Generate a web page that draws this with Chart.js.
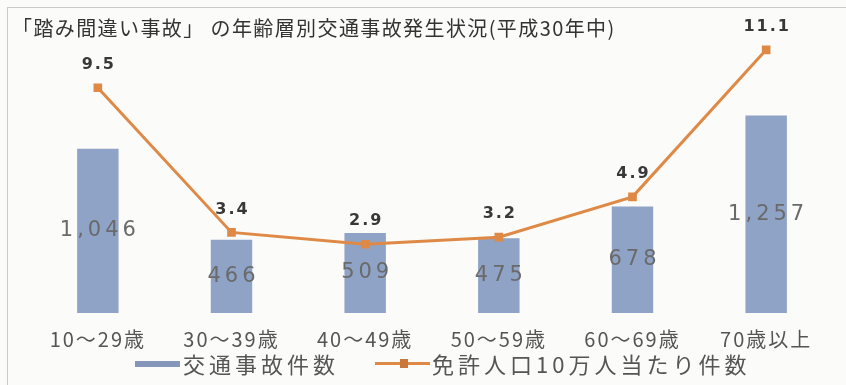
<!DOCTYPE html>
<html>
<head>
<meta charset="utf-8">
<script src="https://cdn.jsdelivr.net/npm/chart.js@4.4.1/dist/chart.umd.min.js"></script>
<style>
  html, body { margin:0; padding:0; background:#fbfbfa; }
  #wrap { position:relative; width:846px; height:385px; overflow:hidden; background:#fbfbfa; }
  #frame { position:absolute; left:7px; top:7px; width:850px; height:390px; border-left:1px solid #c9cccc; border-top:1px solid #c9cccc; }
  canvas { position:absolute; left:0; top:0; }
  #title { position:absolute; left:12px; top:16px; line-height:24px; font-family:"Noto Sans CJK JP"; font-size:20px; color:#333; white-space:nowrap; letter-spacing:1.4px; }
  #legend { position:absolute; left:135px; top:350px; font-family:"Noto Sans CJK JP"; font-size:22px; color:#555; white-space:nowrap; letter-spacing:4px; }
  .item { position:absolute; top:0; height:26px; line-height:26px; }
  .sw { position:absolute; }
</style>
</head>
<body>
<div id="wrap">
  <div id="frame"></div>
  <canvas id="c" width="846" height="385"></canvas>
  <div id="title">「踏み間違い事故」 の年齢層別交通事故発生状況(平成30年中)</div>
  <div id="legend"></div>
</div>
<script>
const categories = ["10〜29歳", "30〜39歳", "40〜49歳", "50〜59歳", "60〜69歳", "70歳以上"];
const accidentCounts = [1046, 466, 509, 475, 678, 1257];
const ratePer100k = [9.5, 3.4, 2.9, 3.2, 4.9, 11.1];
const seriesNames = ["交通事故件数", "免許人口10万人当たり件数"];

const BAR_COLOR = "#8fa3c6";
const LINE_COLOR = "#de8a46";

// HTML legend
const lg = document.getElementById("legend");
lg.innerHTML =
  '<div class="sw" style="left:0;top:11px;width:45px;height:6px;background:#8497bb"></div>' +
  '<div class="item" style="left:48px">' + seriesNames[0] + '</div>' +
  '<div class="sw" style="left:240px;top:12px;width:55px;height:3px;background:' + LINE_COLOR + '"></div>' +
  '<div class="sw" style="left:265px;top:9px;width:8px;height:9px;background:#c9773a"></div>' +
  '<div class="item" style="left:297px">' + seriesNames[1] + '</div>';

const spacingPlugin = {
  id: "tickSpacing",
  beforeLayout(chart) { chart.ctx.letterSpacing = "2px"; },
  beforeDraw(chart) { chart.ctx.letterSpacing = "2px"; }
};

const labelPlugin = {
  id: "valueLabels",
  afterDatasetsDraw(chart) {
    const ctx = chart.ctx;
    ctx.save();
    const barMeta = chart.getDatasetMeta(0);
    ctx.font = "21px 'DejaVu Sans'";
    ctx.fillStyle = "#6a6a6a";
    ctx.textAlign = "center";
    ctx.textBaseline = "middle";
    ctx.letterSpacing = "4px";
    barMeta.data.forEach((el, i) => {
      const txt = accidentCounts[i].toLocaleString("en-US");
      ctx.fillText(txt, el.x + 2, (el.y + el.base) / 2);
    });
    const lineMeta = chart.getDatasetMeta(1);
    ctx.font = "bold 16px 'DejaVu Sans'";
    ctx.fillStyle = "#383838";
    ctx.letterSpacing = "2px";
    lineMeta.data.forEach((el, i) => {
      ctx.fillText(ratePer100k[i].toFixed(1), el.x + 1, el.y - 23);
    });
    ctx.restore();
  }
};

new Chart(document.getElementById("c"), {
  data: {
    labels: categories,
    datasets: [
      {
        type: "bar",
        label: seriesNames[0],
        data: accidentCounts,
        backgroundColor: BAR_COLOR,
        yAxisID: "y",
        barPercentage: 0.31,
        categoryPercentage: 1.0,
        order: 2
      },
      {
        type: "line",
        label: seriesNames[1],
        data: ratePer100k,
        borderColor: LINE_COLOR,
        backgroundColor: LINE_COLOR,
        borderWidth: 3,
        pointStyle: "rect",
        pointRadius: 4,
        pointHoverRadius: 4,
        tension: 0,
        yAxisID: "y1",
        order: 1
      }
    ]
  },
  options: {
    responsive: false,
    animation: false,
    events: [],
    layout: { padding: { left: 31, right: 13, top: 38, bottom: 20 } },
    plugins: {
      legend: { display: false },
      title: { display: false },
      tooltip: { enabled: false }
    },
    scales: {
      x: {
        grid: { display: false, drawTicks: false },
        border: { display: false },
        ticks: {
          padding: 14,
          color: "#555",
          maxRotation: 0,
          autoSkip: false,
          font: { family: "'Noto Sans CJK JP'", size: 20 }
        }
      },
      y: { display: false, min: 0, max: 1750 },
      y1: { display: false, min: 0, max: 11.6, position: "right" }
    }
  },
  plugins: [spacingPlugin, labelPlugin]
});
</script>
</body>
</html>
